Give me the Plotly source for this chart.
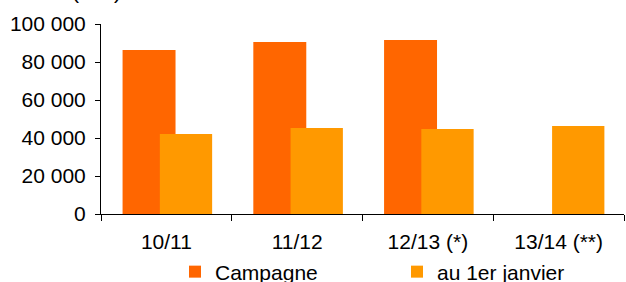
import plotly.graph_objects as go

categories = ["10/11", "11/12", "12/13 (*)", "13/14 (**)"]
campagne = [86300, 90500, 91600, None]
janvier = [42100, 45200, 44800, 46300]
y_ticks = [0, 20000, 40000, 60000, 80000, 100000]

fig = go.Figure()
fig.add_trace(go.Bar(x=categories, y=campagne, name="Campagne",
                     marker=dict(color="#FF6600", line=dict(width=0)),
                     offset=-0.335, width=0.405))
fig.add_trace(go.Bar(x=categories, y=janvier, name="au 1er janvier",
                     marker=dict(color="#FF9900", line=dict(width=0)),
                     offset=-0.05, width=0.40))

fig.update_layout(
    width=626, height=282,
    margin=dict(l=101, r=2, t=24, b=68, autoexpand=False),
    barmode="overlay",
    paper_bgcolor="white", plot_bgcolor="white",
    separators=", ",
    font=dict(family="Liberation Sans, Arial, sans-serif", size=21, color="black"),
    showlegend=True,
    legend=dict(orientation="h", xref="container", x=175/626, xanchor="left",
                yref="container", y=10/282, yanchor="middle",
                entrywidth=177, entrywidthmode="pixels",
                font=dict(size=21), itemwidth=30,
                traceorder="normal", bgcolor="rgba(0,0,0,0)"),
    annotations=[dict(text="(en t)", xref="paper", yref="paper", x=-0.008, y=1.1,
                      xanchor="center", yanchor="bottom", showarrow=False,
                      font=dict(size=21))],
)
fig.update_xaxes(type="category", showline=True, linecolor="black", linewidth=1,
                 ticks="outside", ticklen=6, tickcolor="black", tickson="boundaries",
                 ticklabelstandoff=9,
                 showgrid=False, range=[-0.5, 3.5])
fig.update_yaxes(range=[0, 100000], tickvals=y_ticks, tickformat=",d",
                 showline=True, linecolor="black", linewidth=1,
                 ticks="outside", ticklen=5, tickcolor="black",
                 ticklabelstandoff=5,
                 showgrid=False, zeroline=False)

fig.write_html("out.html", config={"displayModeBar": False},
               post_script="document.body.style.margin='0';document.body.style.overflow='hidden';")
